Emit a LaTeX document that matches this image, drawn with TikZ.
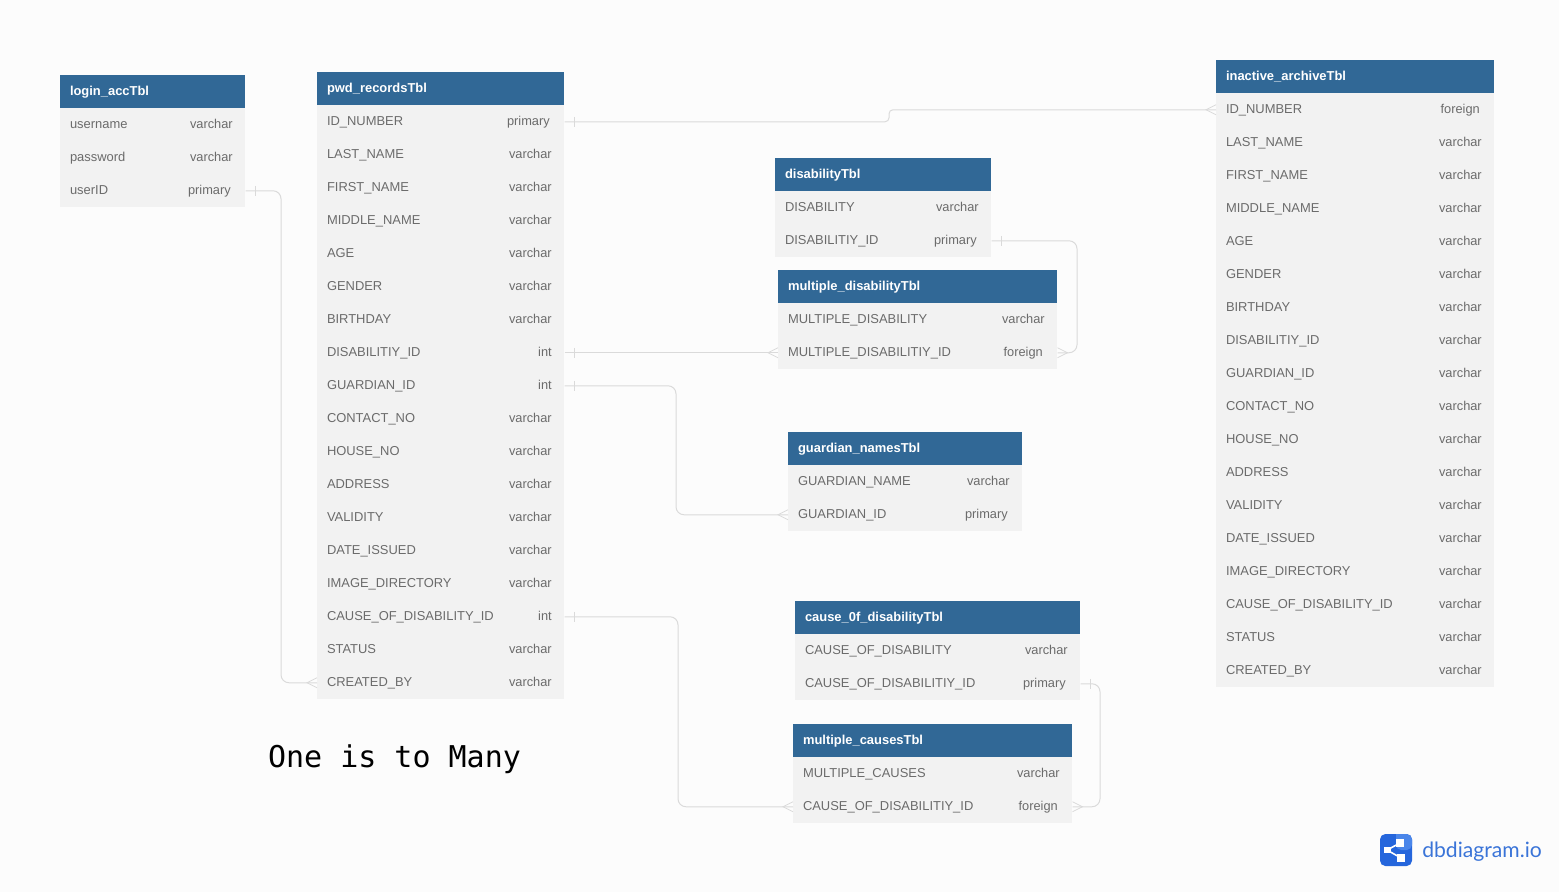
\documentclass[tikz,border=0pt]{standalone}
\usepackage{fontspec}
\setmainfont{Liberation Sans}
\newfontfamily\monoF{DejaVu Sans Mono}
\newfontfamily\logoF{Lato}
\usetikzlibrary{positioning,calc}

\definecolor{headC}{HTML}{316896}
\definecolor{rowC}{HTML}{F2F2F2}
\definecolor{textC}{HTML}{6B6B6B}
\definecolor{lineC}{HTML}{DADADA}
\definecolor{pageC}{HTML}{FCFCFC}
\definecolor{logoC}{HTML}{2566DC}
\definecolor{logoL}{HTML}{4A86EA}
\definecolor{logoT}{HTML}{3A74D8}

\tikzset{
  headN/.style={rectangle,fill=headC,inner sep=0pt,minimum height=24.75pt,anchor=north west},
  titleN/.style={text=white,font=\fontsize{9.7}{12}\selectfont\bfseries,inner sep=0pt,anchor=west,xshift=7.3pt},
  rowN/.style={rectangle,fill=rowC,inner sep=0pt,minimum height=24.75pt,anchor=north west},
  fieldN/.style={text=textC,font=\fontsize{9.7}{12}\selectfont,inner sep=0pt,anchor=west,
    text height=7.5pt,text depth=2pt,xshift=7.3pt,yshift=0.1pt},
  typeN/.style={text=textC,font=\fontsize{9.6}{12}\selectfont,inner sep=0pt,anchor=east,
    text height=7.5pt,text depth=2pt,xshift=-9.4pt,yshift=0.1pt},
  relN/.style={draw=lineC,line width=0.75pt,rounded corners=6pt},
  markN/.style={draw=lineC,line width=0.6pt}
}

% one table: name, x, y, width, title, rows
\newcommand{\dbtable}[6]{
  \node[headN,minimum width=#4*0.75pt] (#1) at (#2,#3) {};
  \node[titleN] (#1-title) at (#1.west) {#5};
  \foreach \fname/\ftype [count=\i] in {#6} {
    \node[rowN,minimum width=#4*0.75pt] (#1-\i) at (#2,{#3+33*\i}) {};
    \node[fieldN] (#1-\i-f) at (#1-\i.west) {\fname};
    \node[typeN] (#1-\i-t) at (#1-\i.east) {\ftype};
  }
}
\newcommand{\keyT}[1]{#1\kern1.5pt}
% tick at the "one" end, crow's foot at the "many" end; #2 is the side, 1 right, -1 left
\newcommand{\oneEnd}[2]{\draw[markN] ($(#1)+(#2*10,-5)$) -- ++(0,10);}
\newcommand{\manyEnd}[2]{\draw[markN] ($(#1)+(0,-5)$) -- ($(#1)+(#2*10,0)$) -- ($(#1)+(0,5)$);}

\begin{document}
\begin{tikzpicture}[x=0.75pt,y=-0.75pt]

  \fill[pageC] (0,0) rectangle (1559,892);

  \dbtable{login}{60}{75}{185}{login\_accTbl}{
    username/varchar, password/varchar, userID/\keyT{primary}}

  \dbtable{pwd}{317}{72}{247}{pwd\_recordsTbl}{
    ID\_NUMBER/\keyT{primary}, LAST\_NAME/varchar, FIRST\_NAME/varchar,
    MIDDLE\_NAME/varchar, AGE/varchar, GENDER/varchar, BIRTHDAY/varchar,
    DISABILITIY\_ID/int, GUARDIAN\_ID/int, CONTACT\_NO/varchar,
    HOUSE\_NO/varchar, ADDRESS/varchar, VALIDITY/varchar, DATE\_ISSUED/varchar,
    IMAGE\_DIRECTORY/varchar, CAUSE\_OF\_DISABILITY\_ID/int,
    STATUS/varchar, CREATED\_BY/varchar}

  \dbtable{archive}{1216}{60}{278}{inactive\_archiveTbl}{
    ID\_NUMBER/\keyT{foreign}, LAST\_NAME/varchar, FIRST\_NAME/varchar,
    MIDDLE\_NAME/varchar, AGE/varchar, GENDER/varchar, BIRTHDAY/varchar,
    DISABILITIY\_ID/varchar, GUARDIAN\_ID/varchar, CONTACT\_NO/varchar,
    HOUSE\_NO/varchar, ADDRESS/varchar, VALIDITY/varchar, DATE\_ISSUED/varchar,
    IMAGE\_DIRECTORY/varchar, CAUSE\_OF\_DISABILITY\_ID/varchar,
    STATUS/varchar, CREATED\_BY/varchar}

  \dbtable{disability}{775}{158}{216}{disabilityTbl}{
    DISABILITY/varchar, DISABILITIY\_ID/\keyT{primary}}

  \dbtable{multiDis}{778}{270}{279}{multiple\_disabilityTbl}{
    MULTIPLE\_DISABILITY/varchar, MULTIPLE\_DISABILITIY\_ID/\keyT{foreign}}

  \dbtable{guardian}{788}{432}{234}{guardian\_namesTbl}{
    GUARDIAN\_NAME/varchar, GUARDIAN\_ID/\keyT{primary}}

  \dbtable{cause}{795}{601}{285}{cause\_0f\_disabilityTbl}{
    CAUSE\_OF\_DISABILITY/varchar, CAUSE\_OF\_DISABILITIY\_ID/\keyT{primary}}

  \dbtable{multiCause}{793}{724}{279}{multiple\_causesTbl}{
    MULTIPLE\_CAUSES/varchar, CAUSE\_OF\_DISABILITIY\_ID/\keyT{foreign}}

  \draw[relN,rounded corners=3pt] (pwd-1.east) -| (889,0 |- archive-1.west) -- (archive-1.west);
  \draw[relN] (login-3.east) -| (281,0 |- pwd-18.west) -- (pwd-18.west);
  \draw[relN] (disability-2.east) -| (1077,0 |- multiDis-2.east) -- (multiDis-2.east);
  \draw[relN] (pwd-8.east) -- (multiDis-2.west);
  \draw[relN] (pwd-9.east) -| (676,0 |- guardian-2.west) -- (guardian-2.west);
  \draw[relN] (pwd-16.east) -| (678,0 |- multiCause-2.west) -- (multiCause-2.west);
  \draw[relN] (cause-2.east) -| (1100,0 |- multiCause-2.east) -- (multiCause-2.east);

  \oneEnd{pwd-1.east}{1}
  \manyEnd{archive-1.west}{-1}
  \oneEnd{login-3.east}{1}
  \manyEnd{pwd-18.west}{-1}
  \oneEnd{disability-2.east}{1}
  \manyEnd{multiDis-2.east}{1}
  \oneEnd{pwd-8.east}{1}
  \manyEnd{multiDis-2.west}{-1}
  \oneEnd{pwd-9.east}{1}
  \manyEnd{guardian-2.west}{-1}
  \oneEnd{pwd-16.east}{1}
  \manyEnd{multiCause-2.west}{-1}
  \oneEnd{cause-2.east}{1}
  \manyEnd{multiCause-2.east}{1}

  \node[inner sep=0pt,font=\monoF\fontsize{22.5}{26}\selectfont] (caption) at (394.5,759.5) {One is to Many};

  % logo
  \fill[logoC,rounded corners=4pt] (1380,834) rectangle (1412,866);
  \fill[logoL,rounded corners=4pt] (1396,834) -- (1412,834) -- (1412,850) -- (1396,850) [sharp corners] -- cycle;
  \draw[white,line width=1.2pt] (1400,843) -- (1387,850) -- (1401,858);
  \fill[white] (1396,839) rectangle (1404,847);
  \fill[white] (1397,854) rectangle (1405,862);
  \fill[white] (1384,847) rectangle (1391,853);
  \node[inner sep=0pt,anchor=west,text=logoT,font=\logoF\fontsize{15.85}{20}\selectfont] (logoText) at (1422,851.5) {dbdiagram.io};

\end{tikzpicture}
\end{document}
